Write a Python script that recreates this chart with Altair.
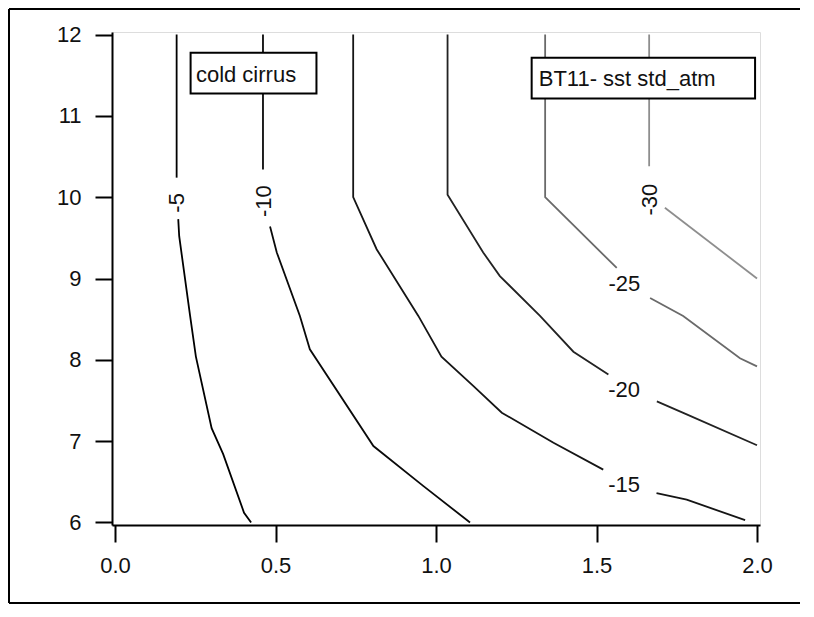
import altair as alt
import pandas as pd

# ---- data ----
levels = [-5, -10, -15, -20, -25, -30]
level_colors = ["#000000", "#0a0a0a", "#151515", "#222222", "#6a6a6a", "#8e8e8e"]

# contour -5 (two pieces, gap for its label)
m5_x = [0.192, 0.192, 0.197, 0.200, 0.234, 0.252, 0.301, 0.337, 0.402, 0.424]
m5_y = [12.0, 10.24, 9.73, 9.52, 8.54, 8.04, 7.16, 6.84, 6.12, 6.0]
m5_s = [0, 0, 1, 1, 1, 1, 1, 1, 1, 1]

# contour -10
m10_x = [0.461, 0.461, 0.483, 0.504, 0.576, 0.607, 0.805, 0.960, 1.106]
m10_y = [12.0, 10.34, 9.64, 9.32, 8.54, 8.13, 6.94, 6.45, 6.0]
m10_s = [0, 0, 1, 1, 1, 1, 1, 1, 1]

# contour -15
m15_x = [0.742, 0.742, 0.815, 0.945, 1.017, 1.116, 1.205, 1.366, 1.521, 1.687, 1.781, 1.963]
m15_y = [12.0, 10.0, 9.36, 8.54, 8.04, 7.68, 7.35, 6.98, 6.65, 6.36, 6.28, 6.03]
m15_s = [0, 0, 0, 0, 0, 0, 0, 0, 0, 1, 1, 1]

# contour -20
m20_x = [1.036, 1.036, 1.147, 1.199, 1.324, 1.428, 1.537, 1.688, 1.781, 2.0]
m20_y = [12.0, 10.03, 9.32, 9.03, 8.54, 8.10, 7.82, 7.49, 7.33, 6.95]
m20_s = [0, 0, 0, 0, 0, 0, 0, 1, 1, 1]

# contour -25
m25_x = [1.340, 1.340, 1.563, 1.667, 1.770, 1.947, 2.0]
m25_y = [12.0, 10.0, 9.13, 8.76, 8.54, 8.02, 7.92]
m25_s = [0, 0, 0, 1, 1, 1, 1]

# contour -30
m30_x = [1.664, 1.664, 1.713, 2.0]
m30_y = [12.0, 10.38, 9.87, 9.0]
m30_s = [0, 0, 1, 1]

# contour labels
lab_text = ["-5", "-10", "-15", "-20", "-25", "-30"]
lab_x = [0.193, 0.464, 1.586, 1.586, 1.587, 1.668]
lab_y = [9.93, 9.95, 6.455, 7.63, 8.93, 9.97]
lab_angle = [270, 270, 0, 0, 0, 270]

# annotation boxes
box_text = ["cold cirrus", "BT11- sst std_atm"]
box_x = [0.2355, 1.298]
box_x2 = [0.6276, 1.994]
box_y = [11.775, 11.713]
box_y2 = [11.275, 11.213]
box_tx = [0.252, 1.320]
box_ty = [11.41, 11.37]

x_ticks = [0.0, 0.5, 1.0, 1.5, 2.0]
y_ticks = [6, 7, 8, 9, 10, 11, 12]

# ---- tables ----
rows = []
for lev, xs, ys, ss in [(-5, m5_x, m5_y, m5_s), (-10, m10_x, m10_y, m10_s),
                        (-15, m15_x, m15_y, m15_s), (-20, m20_x, m20_y, m20_s),
                        (-25, m25_x, m25_y, m25_s), (-30, m30_x, m30_y, m30_s)]:
    for i, (xv, yv, sv) in enumerate(zip(xs, ys, ss)):
        rows.append({"level": lev, "piece": f"{lev}_{sv}", "order": i, "x": xv, "y": yv})
lines_df = pd.DataFrame(rows)
labels_df = pd.DataFrame({"text": lab_text, "x": lab_x, "y": lab_y, "angle": lab_angle})
boxes_df = pd.DataFrame({"text": box_text, "x": box_x, "x2": box_x2, "y": box_y,
                         "y2": box_y2, "tx": box_tx, "ty": box_ty})

FONT = "Liberation Sans"
xscale = alt.Scale(domain=[0, 2], nice=False, zero=False, padding=3)
yscale = alt.Scale(domain=[6, 12], nice=False, zero=False, padding=2.5)

xax = alt.Axis(values=x_ticks, format=".1f", title=None, grid=False,
               labelFontSize=22, labelFont=FONT, labelColor="#111",
               tickSize=17, tickWidth=2, tickColor="black",
               domainColor="black", domainWidth=2, labelPadding=13)
yax = alt.Axis(values=y_ticks, format="d", title=None, grid=False,
               labelFontSize=22, labelFont=FONT, labelColor="#111",
               tickSize=17, tickWidth=2, tickColor="black",
               domainColor="black", domainWidth=2, labelPadding=14)

lines = alt.Chart(lines_df).mark_line(strokeWidth=1.8, clip=True).encode(
    x=alt.X("x:Q", scale=xscale, axis=xax),
    y=alt.Y("y:Q", scale=yscale, axis=yax),
    detail="piece:N",
    order="order:Q",
    color=alt.Color("level:N", scale=alt.Scale(domain=levels, range=level_colors), legend=None),
)

labels = alt.Chart(labels_df).mark_text(fontSize=22, font=FONT, color="#111",
                                        align="center", baseline="middle").encode(
    x=alt.X("x:Q", scale=xscale),
    y=alt.Y("y:Q", scale=yscale),
    text="text:N",
    angle=alt.Angle("angle:Q", scale=None),
)

boxes = alt.Chart(boxes_df).mark_rect(fill="white", stroke="black", strokeWidth=2).encode(
    x=alt.X("x:Q", scale=xscale), x2="x2:Q",
    y=alt.Y("y:Q", scale=yscale), y2="y2:Q",
)
box_texts = alt.Chart(boxes_df).mark_text(fontSize=22, font=FONT, color="#111",
                                          align="left", baseline="alphabetic").encode(
    x=alt.X("tx:Q", scale=xscale),
    y=alt.Y("ty:Q", scale=yscale),
    text="text:N",
)

one = pd.DataFrame({"a": [0]})
frame_top = alt.Chart(one).mark_rule(color="black", strokeWidth=2).encode(
    x=alt.value(-103), x2=alt.value(690), y=alt.value(-23))
frame_left = alt.Chart(one).mark_rule(color="black", strokeWidth=2).encode(
    x=alt.value(-103), y=alt.value(-23), y2=alt.value(571))
frame_bottom = alt.Chart(one).mark_rule(color="black", strokeWidth=2).encode(
    x=alt.value(-103), x2=alt.value(690), y=alt.value(571))

chart = alt.layer(lines, labels, boxes, box_texts, frame_top, frame_left, frame_bottom).properties(
    width=648, height=493,
    autosize=alt.AutoSizeParams(type="none"),
    padding={"left": 104, "top": 24, "right": 40, "bottom": 79},
).configure_view(stroke="black", strokeWidth=2).configure(background="white")

chart.save("out.html", embed_options={"renderer": "svg", "actions": False})
